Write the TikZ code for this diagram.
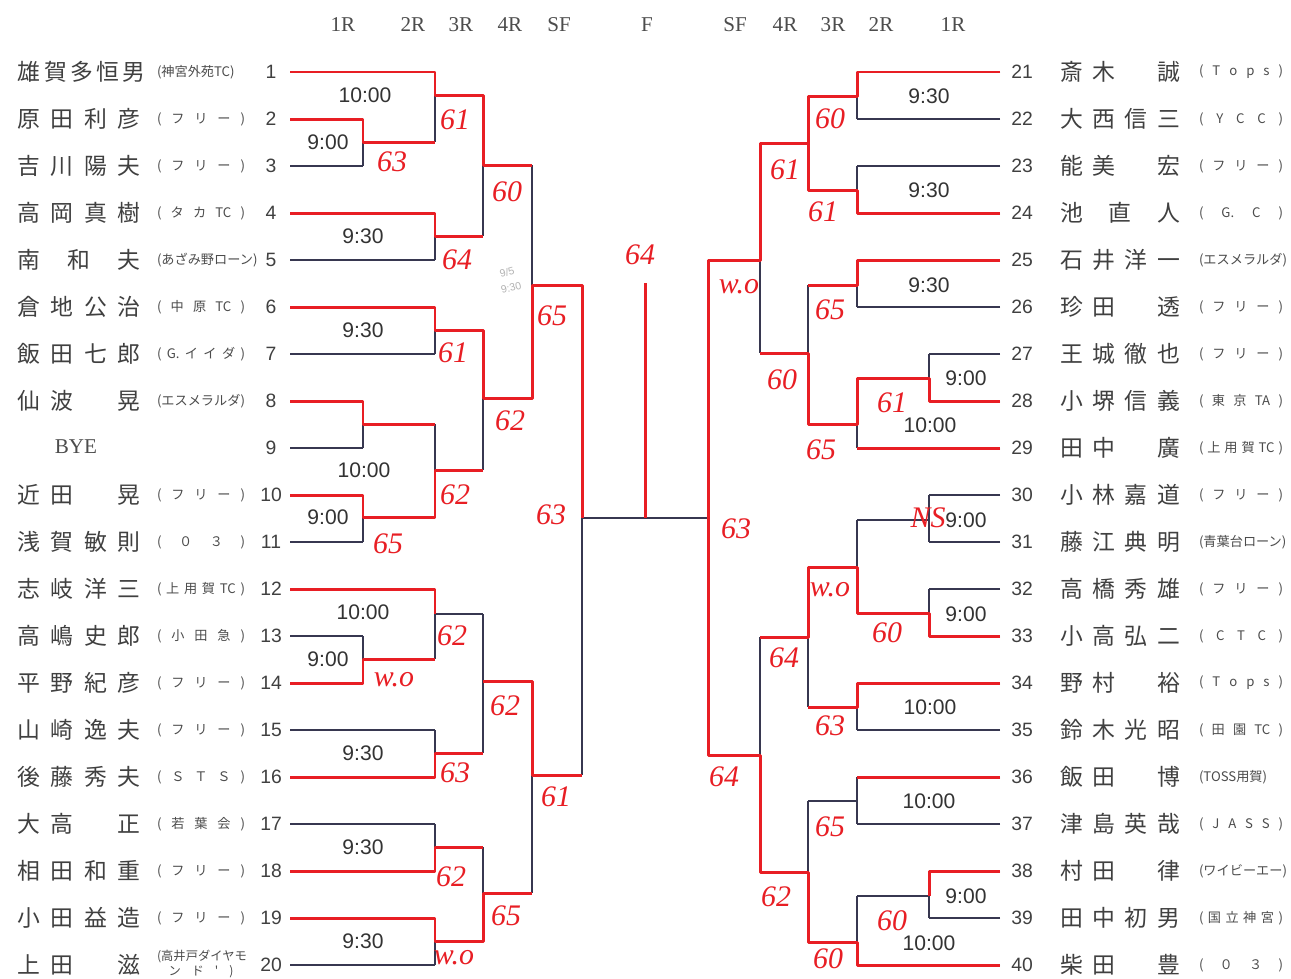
\documentclass[tikz,border=0pt]{standalone}
\usepackage{fontspec}
\setmainfont{Liberation Serif}
\newfontfamily\jpfont{Noto Sans CJK JP}
\newfontfamily\numfont{Liberation Sans}
\usetikzlibrary{positioning}
\definecolor{inkred}{RGB}{232,30,36}
\definecolor{pen}{RGB}{55,55,80}
\newcommand\slotgap{\hbox to 1em{}}

\begin{document}
\begin{tikzpicture}[x=0.02cm, y=-0.02cm,
  bline/.style={pen, line width=0.7pt},
  rline/.style={inkred, line width=1.7pt, line join=round},
  score/.style={inkred, font=\fontsize{17}{17}\selectfont\itshape},
  tm/.style={font=\numfont\fontsize{12}{12}\selectfont, text=black!80},
  num/.style={font=\numfont\fontsize{11}{11}\selectfont, text=black!75},
  pname/.style={font=\jpfont\fontsize{13}{13}\selectfont, text=black!75, inner sep=0pt},
  club/.style={font=\jpfont\fontsize{7.5}{8}\selectfont, text=black!70, inner sep=0pt},
  hdr/.style={font=\fontsize{12}{12}\selectfont, text=black!70}]
  \fill[white] (0,0) rectangle (1291,978);
  \useasboundingbox (0,0) rectangle (1291,978);

  % round headings
  \foreach \x/\t in {343/1R, 413/2R, 461/3R, 510/4R, 559/SF, 647/F,
                     735/SF, 785/4R, 833/3R, 881/2R, 953/1R}
    \node[hdr] (h\x) at (\x,25) {\t};

  % left players
  \foreach \i/\pn/\cl in {
    1/{雄 賀 多 恒 男}/{(神宮外苑TC)},
    2/{原 田 利 彦}/{( フ リ ー )},
    3/{吉 川 陽 夫}/{( フ リ ー )},
    4/{高 岡 真 樹}/{( タ カ TC )},
    5/{南 和 夫}/{(あざみ野ローン)},
    6/{倉 地 公 治}/{( 中 原 TC )},
    7/{飯 田 七 郎}/{( G. イ イ ダ )},
    8/{仙 波 \slotgap{} 晃}/{(エスメラルダ)},
    10/{近 田 \slotgap{} 晃}/{( フ リ ー )},
    11/{浅 賀 敏 則}/{( ０ ３ )},
    12/{志 岐 洋 三}/{( 上 用 賀 TC )},
    13/{高 嶋 史 郎}/{( 小 田 急 )},
    14/{平 野 紀 彦}/{( フ リ ー )},
    15/{山 崎 逸 夫}/{( フ リ ー )},
    16/{後 藤 秀 夫}/{( Ｓ Ｔ Ｓ )},
    17/{大 高 \slotgap{} 正}/{( 若 葉 会 )},
    18/{相 田 和 重}/{( フ リ ー )},
    19/{小 田 益 造}/{( フ リ ー )},
    20/{上 田 \slotgap{} 滋}/{}}
  {
    \node[pname] (pn\i) at (79,{72+(\i-1)*47}) {\makebox[2.45cm][s]{\pn}};
    \node[club] (cl\i) at (201,{72+(\i-1)*47}) {\makebox[1.76cm][s]{\cl}};
  }
  \node[font=\fontsize{12}{12}\selectfont, text=black!70] (pn9) at (76,447) {BYE};
  \node[club, align=center, font=\jpfont\fontsize{7}{8}\selectfont] (cl20) at (201,964)
    {\makebox[1.76cm][s]{(高井戸ダイヤモ}\\ \makebox[1.3cm][s]{ン ド ' )}};
  \foreach \i in {1,...,20}
    \node[num] (n\i) at (271,{72+(\i-1)*47}) {\i};

  % right players
  \foreach \i/\pn/\cl in {
    21/{斎 木 \slotgap{} 誠}/{( T o p s )},
    22/{大 西 信 三}/{( Y C C )},
    23/{能 美 \slotgap{} 宏}/{( フ リ ー )},
    24/{池 直 人}/{( G. C )},
    25/{石 井 洋 一}/{(エスメラルダ)},
    26/{珍 田 \slotgap{} 透}/{( フ リ ー )},
    27/{王 城 徹 也}/{( フ リ ー )},
    28/{小 堺 信 義}/{( 東 京 TA )},
    29/{田 中 \slotgap{} 廣}/{( 上 用 賀 TC )},
    30/{小 林 嘉 道}/{( フ リ ー )},
    31/{藤 江 典 明}/{(青葉台ローン)},
    32/{高 橋 秀 雄}/{( フ リ ー )},
    33/{小 高 弘 二}/{( C T C )},
    34/{野 村 \slotgap{} 裕}/{( T o p s )},
    35/{鈴 木 光 昭}/{( 田 園 TC )},
    36/{飯 田 \slotgap{} 博}/{(TOSS用賀)},
    37/{津 島 英 哉}/{( J A S S )},
    38/{村 田 \slotgap{} 律}/{(ワイビーエー)},
    39/{田 中 初 男}/{( 国 立 神 宮 )},
    40/{柴 田 \slotgap{} 豊}/{( ０ ３ )}}
  {
    \node[num] (n\i) at (1022,{72+(\i-21)*47}) {\i};
    \node[pname] (pn\i) at (1120,{72+(\i-21)*47}) {\makebox[2.4cm][s]{\pn}};
    \node[club] (cl\i) at (1241,{72+(\i-21)*47}) {\makebox[1.68cm][s]{\cl}};
  }

  % entry lines
  \foreach \i/\xe in {1/435,2/363,3/363,4/435,5/435,6/435,7/435,8/363,9/363,10/363,
                      11/363,12/435,13/363,14/363,15/435,16/435,17/435,18/435,19/435,20/435}
    \draw[bline] (290,{72+(\i-1)*47}) -- (\xe,{72+(\i-1)*47});
  \foreach \i/\xe in {21/857,22/857,23/857,24/857,25/857,26/857,27/929,28/929,29/857,30/929,
                      31/929,32/929,33/929,34/857,35/857,36/857,37/857,38/929,39/929,40/857}
    \draw[bline] (1000,{72+(\i-21)*47}) -- (\xe,{72+(\i-21)*47});

  % bracket joints: x of joint / top / bottom / out y / out x
  \foreach \xv/\ya/\yb/\yo/\xo in {
    363/119/166/142/435, 435/72/142/95/483, 435/213/260/236/483, 483/95/236/165/532,
    435/307/354/330/483, 363/401/448/424/435, 363/495/542/517/435, 435/424/517/470/483,
    483/330/470/398/532, 532/165/398/285/582, 363/636/683/659/435, 435/589/659/614/483,
    435/730/777/753/483, 483/614/753/681/532, 435/824/871/847/483, 435/918/965/941/483,
    483/847/941/893/532, 532/681/893/775/582, 582/285/775/518/708,
    857/72/119/96/808, 857/166/213/190/808, 808/96/190/143/760, 857/260/307/285/808,
    929/354/401/378/857, 857/378/448/424/808, 808/285/424/353/760, 760/143/353/260/708,
    929/495/542/520/857, 929/589/636/613/857, 857/520/613/567/808, 857/683/730/707/808,
    808/567/707/637/760, 857/777/824/801/808, 929/871/918/896/857, 857/896/965/942/808,
    808/801/942/872/760, 760/637/872/755/708, 708/260/755/518/708}
    \draw[bline] (\xv,\ya) -- (\xv,\yb) (\xv,\yo) -- (\xo,\yo);

  % winners marked in red
  \draw[rline] (290,72) -- (435,72) -- (435,95) -- (483,95) -- (483,165) -- (532,165);
  \draw[rline] (290,119) -- (363,119) -- (363,142) -- (435,142);
  \draw[rline] (290,213) -- (435,213) -- (435,236) -- (483,236);
  \draw[rline] (290,307) -- (435,307) -- (435,330) -- (483,330) -- (483,398) -- (532,398)
               -- (532,285) -- (582,285) -- (582,518);
  \draw[rline] (290,401) -- (363,401) -- (363,424) -- (435,424);
  \draw[rline] (290,495) -- (363,495) -- (363,517) -- (435,517) -- (435,470) -- (483,470);
  \draw[rline] (290,589) -- (435,589) -- (435,614);
  \draw[rline] (290,683) -- (363,683) -- (363,659) -- (435,659);
  \draw[rline] (290,777) -- (435,777) -- (435,753) -- (483,753);
  \draw[rline] (483,681) -- (532,681) -- (532,775) -- (582,775);
  \draw[rline] (290,871) -- (435,871) -- (435,847) -- (483,847);
  \draw[rline] (290,918) -- (435,918) -- (435,941) -- (483,941) -- (483,893) -- (532,893);
  \draw[rline] (645,283) -- (645,518);
  \draw[rline] (1000,72) -- (857,72) -- (857,96) -- (808,96) -- (808,143) -- (760,143)
               -- (760,260) -- (708,260) -- (708,755) -- (760,755) -- (760,872) -- (808,872)
               -- (808,942) -- (857,942) -- (857,965) -- (1000,965);
  \draw[rline] (1000,213) -- (857,213) -- (857,190) -- (808,190) -- (808,143);
  \draw[rline] (1000,260) -- (857,260) -- (857,285) -- (808,285);
  \draw[rline] (1000,401) -- (929,401) -- (929,378) -- (857,378) -- (857,424) -- (808,424)
               -- (808,353) -- (760,353);
  \draw[rline] (1000,448) -- (857,448);
  \draw[rline] (1000,636) -- (929,636) -- (929,613) -- (857,613) -- (857,567) -- (808,567)
               -- (808,637) -- (760,637);
  \draw[rline] (1000,683) -- (857,683) -- (857,707) -- (808,707);
  \draw[rline] (1000,777) -- (857,777);
  \draw[rline] (1000,871) -- (929,871) -- (929,896);

  % start times
  \foreach \x/\y/\t in {365/95/10:00, 328/142/9:00, 363/236/9:30, 363/330/9:30,
      364/470/10:00, 328/517/9:00, 363/612/10:00, 328/659/9:00, 363/753/9:30,
      363/847/9:30, 363/941/9:30,
      929/96/9:30, 929/190/9:30, 929/285/9:30, 966/378/9:00, 930/425/10:00,
      966/520/9:00, 966/614/9:00, 930/707/10:00, 929/801/10:00, 966/896/9:00, 929/943/10:00}
    \node[tm] (t\x-\y) at (\x,\y) {\t};
  \node[font=\numfont\fontsize{6}{9}\selectfont, text=black!30, rotate=15, align=center,
        inner sep=0pt] (memo) at (509,280) {9/5\\9:30};

  % scores
  \foreach \x/\y/\s in {455/120/61, 392/162/63, 507/192/60, 457/260/64, 552/316/65,
      453/353/61, 510/421/62, 455/495/62, 388/544/65, 551/515/63, 452/636/62,
      394/680/w.o, 505/706/62, 455/773/63, 556/797/61, 451/877/62, 506/916/65, 454/958/w.o,
      640/255/64,
      830/119/60, 785/170/61, 823/212/61, 739/287/w.o, 830/310/65, 782/380/60,
      892/403/61, 821/450/65, 736/529/63, 928/518/NS, 830/590/w.o, 887/633/60,
      784/658/64, 830/726/63, 724/777/64, 830/827/65, 776/897/62, 892/921/60, 828/959/60}
    \node[score] (s\x-\y) at (\x,\y) {\s};
\end{tikzpicture}
\end{document}
